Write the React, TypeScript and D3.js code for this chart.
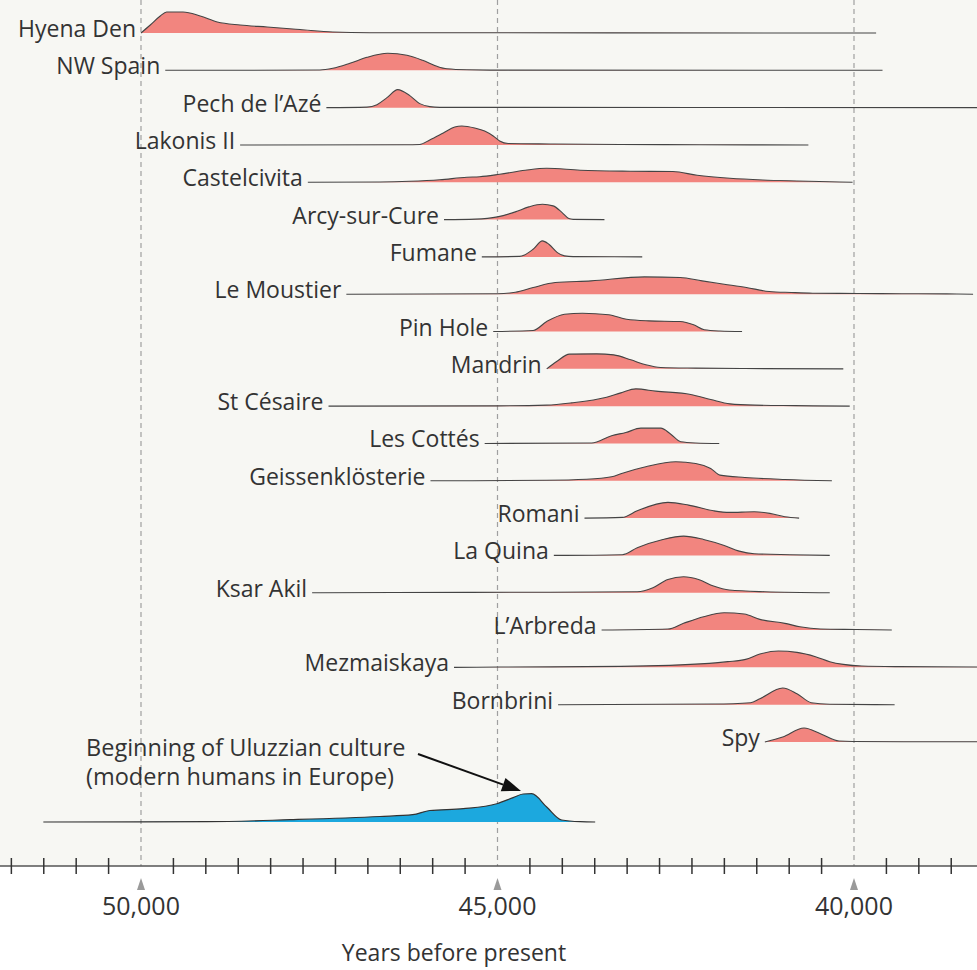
import React from "react";
import * as d3 from "d3";

const W = 977;
const H = 970;

// Site names, top to bottom
const siteNames = [
  "Hyena Den",
  "NW Spain",
  "Pech de l\u2019Az\u00e9",
  "Lakonis II",
  "Castelcivita",
  "Arcy-sur-Cure",
  "Fumane",
  "Le Moustier",
  "Pin Hole",
  "Mandrin",
  "St C\u00e9saire",
  "Les Cott\u00e9s",
  "Geissenkl\u00f6sterie",
  "Romani",
  "La Quina",
  "Ksar Akil",
  "L\u2019Arbreda",
  "Mezmaiskaya",
  "Bornbrini",
  "Spy",
];

// [years before present, relative probability]
const hyenaDen = [[50000,0],[49870,8],[49730,17],[49640,21],[49410,21],[49170,17],[48930,11],[48610,8],[48230,6],[47770,3.5],[47310,1],[46790,0.3],[39690,0]];
const nwSpain = [[49660,0],[47490,0.3],[47310,2],[47070,7],[46830,13],[46540,17],[46270,15],[46050,10],[45850,4],[45710,1.5],[45430,0.5],[44970,0.2],[39600,0]];
const pechDeLAze = [[47400,0],[46830,0.5],[46690,3],[46550,10],[46400,18],[46230,12],[46090,4],[45950,1],[45810,0.3],[38200,0]];
const lakonisII = [[48610,0],[46300,0.2],[46090,0.5],[45950,5],[45760,12],[45600,18],[45500,19],[45320,17],[45180,14],[45060,9],[44970,4],[44850,1.5],[44260,1],[43280,0.5],[42160,0.2],[40640,0]];
const castelcivita = [[47660,0],[46650,0.3],[46230,1],[45810,2.5],[45430,5],[45250,5.5],[44970,8],[44610,12],[44310,14],[43840,12],[43140,11],[42540,10.7],[42200,7],[41740,4],[41280,2.3],[40800,1.3],[40340,0.5],[40020,0]];
const arcySurCure = [[45750,0],[45310,0.5],[45000,2.7],[44750,7.7],[44560,12.7],[44370,15.3],[44220,13.7],[44090,6.7],[44000,1],[43940,0.2],[43500,0]];
const fumane = [[45220,0],[44690,0.5],[44620,2],[44500,7.7],[44370,16],[44280,12.7],[44160,4.3],[44060,1],[43940,0.3],[42970,0]];
const leMoustier = [[47120,0],[45000,0.5],[44750,2],[44500,6.7],[44190,11.7],[43690,13.3],[42940,17.3],[42440,16.7],[42130,13.3],[41820,10],[41510,6.7],[41190,2.7],[40880,1.7],[40580,1],[39940,0.7],[39330,0.5],[38700,0.3],[38330,0]];
const pinHole = [[45060,0],[44500,1],[44310,10],[44060,17.3],[43810,18.3],[43440,16.7],[43190,12.3],[42880,10.7],[42440,10],[42250,6.7],[42100,1.7],[41880,0.5],[41570,0]];
const mandrin = [[44310,0],[44170,7.3],[43990,14.7],[43610,15],[43370,14],[43130,9],[42920,4],[42710,1.3],[42220,0.7],[41530,0.3],[40150,0]];
const stCesaire = [[47370,0],[45000,0.3],[44310,1],[43960,3.3],[43470,9],[43270,13.3],[43060,17.3],[42780,15],[42290,11.7],[42010,6.7],[41740,2.3],[41390,1],[40830,0.5],[40060,0]];
const lesCottes = [[45180,0],[43680,0.5],[43400,7.7],[43200,11],[42990,15.3],[42710,15.3],[42570,9.3],[42430,1.7],[42220,0.5],[41890,0]];
const geissenklosterie = [[45940,0],[44310,0.5],[43750,1.5],[43400,4],[43270,7],[42920,14],[42500,19],[42220,17.3],[42010,12.3],[41880,5.7],[41530,3.3],[40970,1.3],[40310,0]];
const romani = [[43780,0],[43250,0.7],[43040,7.3],[42610,15.7],[42320,13],[41970,7.3],[41750,5.7],[41400,6.3],[41180,4.7],[40970,1.3],[40770,0]];
const laQuina = [[44210,0],[43250,0.7],[43040,7.7],[42680,16],[42390,19.3],[42110,16],[41820,10],[41610,4.3],[41400,1.7],[40900,0.7],[40340,0]];
const ksarAkil = [[47600,0],[46460,0.3],[44260,0.5],[43040,1],[42820,5],[42610,13.3],[42390,16],[42180,13.3],[41970,6.7],[41750,2.7],[41250,1],[40340,0]];
const lArbreda = [[43540,0],[42610,1],[42390,6.7],[42110,13.3],[41820,17.3],[41540,16],[41320,10.7],[40970,6.7],[40760,3.3],[40470,1],[39970,0.5],[39470,0]];
const mezmaiskaya = [[45610,0],[44960,0.3],[43270,1],[42030,4],[41770,5.7],[41520,8],[41320,13.3],[41060,16.3],[40800,15],[40540,10.7],[40340,5.7],[40150,3],[39890,1.3],[39370,0.7],[38200,0.3]];
const bornbrini = [[44150,0],[41970,0.7],[41450,2],[41320,6],[41000,16.7],[40800,11],[40600,2],[40340,0.5],[39430,0]];
const spy = [[41250,0],[41000,5],[40700,14],[40470,8.3],[40210,1],[40020,0.5],[38200,0.2]];

const siteCurves = [
  hyenaDen, nwSpain, pechDeLAze, lakonisII, castelcivita, arcySurCure, fumane,
  leMoustier, pinHole, mandrin, stCesaire, lesCottes, geissenklosterie, romani,
  laQuina, ksarAkil, lArbreda, mezmaiskaya, bornbrini, spy,
];

const uluzzian = [[51370,0],[49070,0.3],[47910,2.3],[46650,5.5],[46190,7.3],[45950,11.5],[45480,13.3],[45010,18.3],[44780,24.4],[44640,28],[44520,28.3],[44310,15],[44100,2],[43840,0.3],[43630,0]];
const uluzzianLabel = ["Beginning of Uluzzian culture", "(modern humans in Europe)"];

const majorTicks = [50000, 45000, 40000];
const majorTickLabels = ["50,000", "45,000", "40,000"];
const axisTitle = "Years before present";

const FONT = "'Open Sans', 'Noto Sans', sans-serif";

export default function App() {
  const x = d3.scaleLinear().domain([50000, 40000]).range([141, 854]);
  const rowY = d3.scalePoint().domain(siteNames).range([33, 742]);
  const h = d3.scaleLinear().domain([0, 30]).range([0, 30]);
  const axisY = 866;
  const uluY = 822;

  const areaAt = (base) =>
    d3.area().x((d) => x(d[0])).y0(base).y1((d) => base - h(d[1])).curve(d3.curveMonotoneX);
  const lineAt = (base) =>
    d3.line().x((d) => x(d[0])).y((d) => base - h(d[1])).curve(d3.curveMonotoneX);

  const minorStep = 5000 / 11;
  const minorTicks = d3
    .range(-4, 26)
    .filter((k) => k % 11 !== 0)
    .map((k) => 50000 - k * minorStep);

  // annotation arrow
  const ax0 = 418, ay0 = 754;
  const ax1 = 521, ay1 = 791;
  const len = Math.hypot(ax1 - ax0, ay1 - ay0);
  const ux = (ax1 - ax0) / len, uy = (ay1 - ay0) / len;
  const hl = 19, hw = 7;
  const bx = ax1 - ux * hl, by = ay1 - uy * hl;
  const head = `${ax1},${ay1} ${bx - uy * hw},${by + ux * hw} ${bx + uy * hw},${by - ux * hw}`;

  return (
    <svg
      width={W}
      height={H}
      style={{ position: "absolute", left: 0, top: 0, display: "block" }}
      fontFamily={FONT}
    >
      <rect x={0} y={0} width={W} height={H} fill="#ffffff" />
      <rect x={0} y={0} width={W} height={axisY} fill="#f7f7f3" />

      {/* dashed reference lines */}
      {majorTicks.map((t) => (
        <line
          key={"d" + t}
          x1={x(t)}
          x2={x(t)}
          y1={0}
          y2={axisY}
          stroke="#a0a0a0"
          strokeWidth={1.2}
          strokeDasharray="5,4"
        />
      ))}

      {/* site distributions */}
      {siteNames.map((name, i) => {
        const base = rowY(name);
        const data = siteCurves[i];
        return (
          <g key={name}>
            <path d={areaAt(base)(data)} fill="#f2857f" />
            <path d={lineAt(base)(data)} fill="none" stroke="#444" strokeWidth={1.1} />
            <text
              x={x(data[0][0]) - 5}
              y={base + 4}
              textAnchor="end"
              fontSize={23}
              fill="#333"
            >
              {name}
            </text>
          </g>
        );
      })}

      {/* Uluzzian */}
      <path d={areaAt(uluY)(uluzzian)} fill="#1ca8de" />
      <path d={lineAt(uluY)(uluzzian)} fill="none" stroke="#333" strokeWidth={1.2} />
      {uluzzianLabel.map((t, i) => (
        <text key={t} x={86} y={756 + i * 29} fontSize={23.5} fill="#333">
          {t}
        </text>
      ))}
      <line x1={ax0} y1={ay0} x2={bx} y2={by} stroke="#111" strokeWidth={2} />
      <polygon points={head} fill="#111" />

      {/* axis */}
      <line x1={0} x2={W} y1={axisY} y2={axisY} stroke="#555" strokeWidth={1.5} />
      {minorTicks.map((t) => (
        <line key={"m" + t} x1={x(t)} x2={x(t)} y1={axisY - 8} y2={axisY + 8} stroke="#333" strokeWidth={1.5} />
      ))}
      {majorTicks.map((t, i) => (
        <g key={"M" + t}>
          <polygon
            points={`${x(t) - 4},${axisY + 24} ${x(t) + 4},${axisY + 24} ${x(t)},${axisY + 12}`}
            fill="#9a9a9a"
          />
          <text x={x(t)} y={axisY + 49} textAnchor="middle" fontSize={25} fill="#333">
            {majorTickLabels[i]}
          </text>
        </g>
      ))}
      <text x={454} y={961} textAnchor="middle" fontSize={23} fill="#333">
        {axisTitle}
      </text>
    </svg>
  );
}
